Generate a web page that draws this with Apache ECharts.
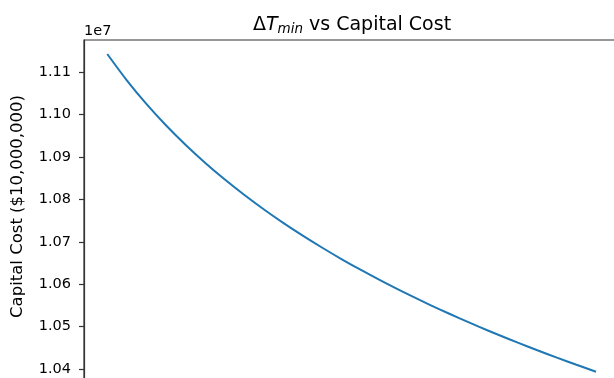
<!DOCTYPE html>
<html>
<head>
<meta charset="utf-8">
<script src="https://cdn.jsdelivr.net/npm/echarts@6/dist/echarts.min.js"></script>
<style>
  html, body { margin: 0; padding: 0; background: #fff; }
  #chart { width: 614px; height: 378px; }
</style>
</head>
<body>
<div id="chart"></div>
<script>
// Minimum approach temperature ΔTmin (K)
const deltaTmin = [5, 6, 7, 8, 9, 10, 11, 12, 13, 14, 15, 16, 17, 18, 19, 20,
                   21, 22, 23, 24, 25, 26, 27, 28, 29, 30];
// Capital cost ($)
const capitalCost = [11143200, 11081100, 11025400, 10975100, 10929200, 10886900,
                     10847700, 10811200, 10777100, 10745000, 10714800, 10686200,
                     10659000, 10633200, 10608600, 10585100, 10562600, 10540900,
                     10520200, 10500200, 10480900, 10462300, 10444400, 10427000,
                     10410200, 10393900];
// y-axis tick values
const yTicks = [10400000, 10500000, 10600000, 10700000, 10800000, 10900000, 11000000, 11100000];

const FONT = 'DejaVu Sans';
const chart = echarts.init(document.getElementById('chart'), null, { renderer: 'canvas' });

chart.setOption({
  animation: false,
  backgroundColor: '#ffffff',
  title: {
    text: '{d|Δ}{t|T}{s|min}{r| vs Capital Cost}',
    left: 347,
    top: 9,
    textAlign: 'center',
    textStyle: {
      fontFamily: FONT,
      fontSize: 19,
      fontWeight: 'normal',
      color: '#000',
      rich: {
        d: { fontFamily: FONT, fontSize: 19, fontWeight: 'normal', color: '#000' },
        t: { fontFamily: FONT, fontSize: 19, fontWeight: 'normal', fontStyle: 'italic', color: '#000' },
        s: { fontFamily: FONT, fontSize: 13.5, fontWeight: 'normal', fontStyle: 'italic', color: '#000', padding: [8, 0, 0, 0] },
        r: { fontFamily: FONT, fontSize: 19, fontWeight: 'normal', color: '#000' }
      }
    }
  },
  grid: {
    left: 84,
    top: 40,
    right: -8,
    bottom: -9,
    show: true,
    borderColor: '#333',
    borderWidth: 1.2,
    outerBoundsMode: 'none'
  },
  xAxis: {
    type: 'value',
    min: 3.81,
    max: 31.33,
    show: false
  },
  yAxis: {
    type: 'value',
    min: 10357780,
    max: 11176180,
    name: 'Capital Cost ($10,000,000)',
    nameLocation: 'middle',
    nameGap: 58,
    nameTextStyle: { fontFamily: FONT, fontSize: 16.5, color: '#000', padding: [0, 0, 0, 14] },
    axisLine: { show: true, lineStyle: { color: '#333', width: 1.2 } },
    axisTick: {
      show: true,
      inside: false,
      length: 5,
      customValues: yTicks,
      lineStyle: { color: '#333', width: 1.2 }
    },
    axisLabel: {
      customValues: yTicks,
      margin: 13,
      fontFamily: FONT,
      fontSize: 14.5,
      color: '#000',
      formatter: v => (v / 1e7).toFixed(2)
    },
    splitLine: { show: false }
  },
  graphic: [{
    type: 'text',
    left: 84,
    top: 24,
    style: { text: '1e7', font: '14.5px "DejaVu Sans"', fill: '#000' }
  }],
  series: [{
    type: 'line',
    data: deltaTmin.map((t, i) => [t, capitalCost[i]]),
    showSymbol: false,
    smooth: 0.3,
    lineStyle: { color: '#1f77b4', width: 2 },
    clip: true
  }]
});
</script>
</body>
</html>
